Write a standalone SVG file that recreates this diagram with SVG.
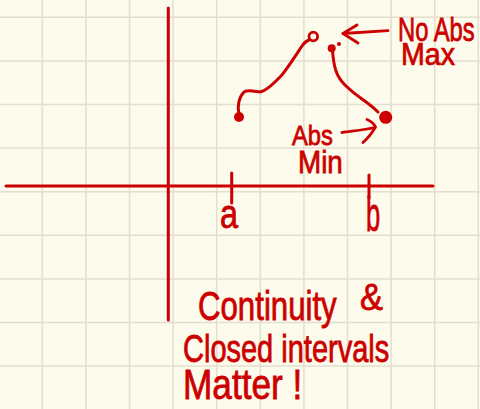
<svg xmlns="http://www.w3.org/2000/svg" width="480" height="409" viewBox="0 0 480 409">
<style>
.grid{stroke:#e2ded0;stroke-width:1.5;fill:none}
.ink{stroke:#cc0000;fill:none;stroke-linecap:round;stroke-linejoin:round}
.dot{fill:#cc0000}
.hw{font-family:"Liberation Sans",Arial,sans-serif;fill:#cc0000;stroke:#cc0000;stroke-width:0.6}
</style>
<rect width="480" height="409" fill="#fdfbec"/>
<g id="grid" class="grid">
<path d="M42.3 0V409M85.9 0V409M129.5 0V409M173.1 0V409M216.7 0V409M260.3 0V409M303.9 0V409M347.5 0V409M391.1 0V409M434.7 0V409M478.3 0V409"/>
<path d="M0 17.3H480M0 60.9H480M0 104.5H480M0 148.1H480M0 191.7H480M0 235.3H480M0 278.9H480M0 322.5H480M0 366.1H480"/>
</g>
<g id="axes" class="ink" stroke-width="3">
<path d="M168.3 8V320"/>
<path d="M6 186H433"/>
<path d="M231.7 173V203"/>
<path d="M369 175V198"/>
</g>
<g id="axis-labels">
<text class="hw" font-size="30" transform="translate(220,228) scale(1.08,1.35)">a</text>
<text class="hw" font-size="34" transform="translate(366,231) scale(0.75,1.4)">b</text>
</g>
<g id="left-piece">
<path class="ink" stroke-width="3" d="M239 114C237 106 239 97 244 92C249 89 255 92 261 91.7C268 90 275 82 281 76C287 69 296 55 302 46C304 43 306 41 309 40"/>
<circle cx="239" cy="117" r="5" class="dot"/>
<circle cx="313.3" cy="36.5" r="4.3" class="ink" stroke-width="2.8"/>
</g>
<g id="right-piece">
<circle cx="331.7" cy="48.3" r="4" class="dot"/>
<circle cx="339" cy="44" r="2" class="dot"/>
<path class="ink" stroke-width="3" d="M332.5 50C333 58 334 65 336 71C338 77 340 80 345 85C350 90 355 94 362 99C369 104 373 107 378 112"/>
<circle cx="385.7" cy="117.3" r="6.5" class="dot"/>
</g>
<g id="connectors" class="ink" stroke-width="2.8">
<path d="M343 33.5L388 30.7"/>
<path d="M357 25L343 33.5L358 43"/>
<path d="M342 132.5C352 131 364 130 375 127.5"/>
<path d="M367 119.5C371 121 374 124 375.5 127C372 133 367 139 363 142.5"/>
</g>
<g id="label-max">
<text class="hw" font-size="26" transform="translate(398,41) scale(0.915,1.3)">No Abs</text>
<text class="hw" font-size="26" transform="translate(401,65) scale(1.1,1.24)">Max</text>
</g>
<g id="label-min">
<text class="hw" font-size="22" transform="translate(292,145) scale(1.08,1.27)">Abs</text>
<text class="hw" font-size="24" transform="translate(298,173) scale(1.16,1.28)">Min</text>
</g>
<g id="caption">
<text class="hw" font-size="30" transform="translate(198,320) scale(1.04,1.35)">Continuity</text>
<text class="hw" font-size="30" transform="translate(360,310) scale(1.15,1.25)">&amp;</text>
<text class="hw" font-size="29" transform="translate(183,362) scale(1.0,1.35)">Closed intervals</text>
<text class="hw" font-size="32" transform="translate(183,399) scale(1.1,1.3)">Matter !</text>
</g>
</svg>
